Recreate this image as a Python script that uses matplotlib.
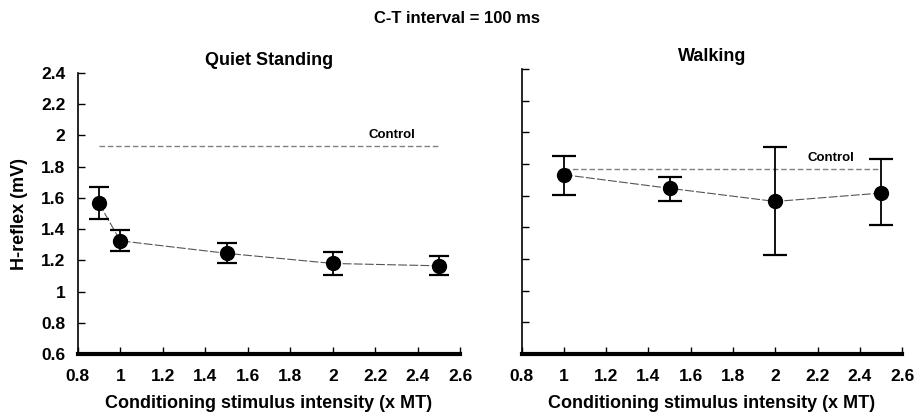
import numpy as np
import matplotlib
matplotlib.use("Agg")
import matplotlib.pyplot as plt

plt.rcParams['font.family'] = ['Liberation Sans', 'DejaVu Sans']
plt.rcParams['font.weight'] = 'bold'

# Quiet standing
qs_x = [0.9, 1.0, 1.5, 2.0, 2.5]
qs_y = [1.565, 1.325, 1.245, 1.18, 1.165]
qs_up = [1.672, 1.395, 1.31, 1.255, 1.225]
qs_lo = [1.465, 1.257, 1.185, 1.106, 1.104]
qs_control = 1.933

# Walking
wk_x = [1.0, 1.5, 2.0, 2.5]
wk_y = [1.732, 1.646, 1.563, 1.616]
wk_up = [1.852, 1.719, 1.909, 1.829]
wk_lo = [1.605, 1.568, 1.222, 1.412]
wk_control = 1.768

xticks = [0.8, 1, 1.2, 1.4, 1.6, 1.8, 2, 2.2, 2.4, 2.6]
xticklabels = ['0.8', '1', '1.2', '1.4', '1.6', '1.8', '2', '2.2', '2.4', '2.6']
yticks = [0.6, 0.8, 1, 1.2, 1.4, 1.6, 1.8, 2, 2.2, 2.4]
yticklabels = ['0.6', '0.8', '1', '1.2', '1.4', '1.6', '1.8', '2', '2.2', '2.4']

fig = plt.figure(figsize=(9.15, 4.15), dpi=100)
ax1 = fig.add_axes([0.085, 0.147, 0.418, 0.677])
ax2 = fig.add_axes([0.570, 0.147, 0.416, 0.687])

def panel(ax, x, y, up, lo, control, cx, title, caps):
    y = np.array(y)
    yerr = [y - np.array(lo), np.array(up) - y]
    ax.plot([x[0], x[-1]], [control, control], color='#808080', lw=1,
            ls=(0, (4, 2)))
    ax.plot(x, y, color='#555555', lw=0.8, ls=(0, (8, 2)))
    ax.errorbar(x, y, yerr=yerr, fmt='o', color='black', ms=10,
                elinewidth=1.3, capsize=caps, capthick=1.6)
    ax.text(cx, control + 0.03, 'Control', fontsize=9.5, fontweight='bold',
            ha='left', va='bottom')
    ax.set_xlim(0.8, 2.6)
    ax.set_ylim(0.6, 2.4)
    ax.set_xticks(xticks)
    ax.set_yticks(yticks)
    ax.set_xticklabels(xticklabels, fontsize=12.5, fontweight='bold')
    ax.tick_params(direction='in', length=5, width=1)
    ax.tick_params(axis='x', pad=11)
    ax.tick_params(axis='y', pad=9)
    ax.spines['top'].set_visible(False)
    ax.spines['right'].set_visible(False)
    ax.spines['bottom'].set_linewidth(3)
    ax.spines['left'].set_linewidth(1.2)
    ax.set_xlabel('Conditioning stimulus intensity (x MT)', fontsize=13,
                  fontweight='bold', labelpad=8)
    ax.set_title(title, fontsize=13, fontweight='bold', pad=6)

panel(ax1, qs_x, qs_y, qs_up, qs_lo, qs_control, 2.17, 'Quiet Standing', 7)
ax1.set_yticklabels(yticklabels, fontsize=12.5, fontweight='bold')
ax1.set_ylabel('H-reflex (mV)', fontsize=13, fontweight='bold', labelpad=9)

panel(ax2, wk_x, wk_y, wk_up, wk_lo, wk_control, 2.15, 'Walking', 8.5)
ax2.set_yticklabels([])
ax2.set_ylim(0.6, 2.4)

fig.text(0.5, 0.955, 'C-T interval = 100 ms', ha='center', va='center',
         fontsize=12, fontweight='bold')

fig.savefig('out.png', dpi=100)
